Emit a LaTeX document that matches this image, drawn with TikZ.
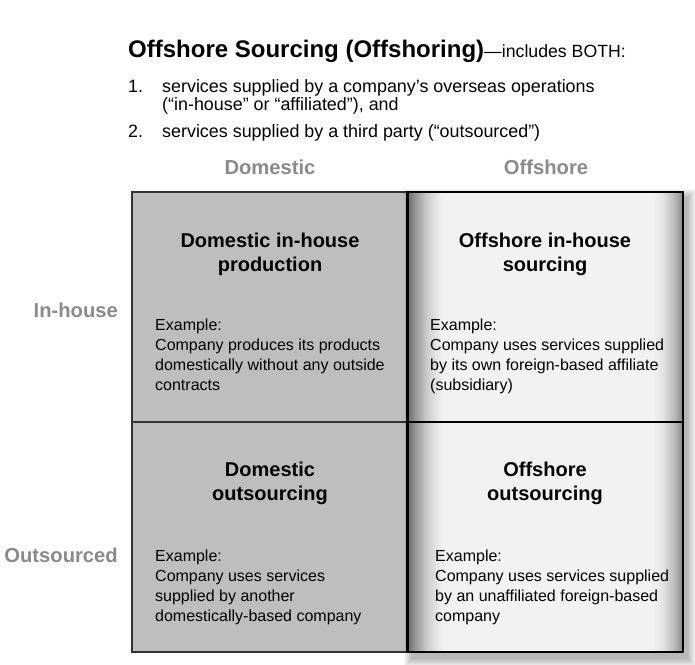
\documentclass[tikz,border=0pt]{standalone}
\usepackage{fontspec}
\setmainfont{Liberation Sans}
\usetikzlibrary{calc}
\definecolor{domfill}{HTML}{BEBEBE}
\definecolor{axisgray}{HTML}{8A8A8A}
\pgfdeclarehorizontalshading{offshade}{100bp}{color(0bp)=(black!58); color(25bp)=(black!58);
  color(26.5bp)=(black!40); color(28.5bp)=(black!20); color(30.5bp)=(black!9); color(31.5bp)=(black!5);
  color(69.5bp)=(black!5); color(71.5bp)=(black!12); color(73.5bp)=(black!28);
  color(75bp)=(black!48); color(100bp)=(black!48)}

\begin{document}
\begin{tikzpicture}[x=1pt,y=-1pt,
  cell/.style={minimum width=275.5pt,minimum height=230pt,inner sep=0pt,outer sep=0pt},
  domcell/.style={cell,draw=black!80,line width=1.1pt,fill=domfill},
  offcell/.style={cell,draw=black,line width=2.6pt,shading=offshade},
  axislabel/.style={inner sep=0pt,text=axisgray,font=\bfseries\fontsize{20.2}{22}\selectfont},
  celltitle/.style={inner sep=0pt,anchor=base,align=center,font=\bfseries\fontsize{20}{24}\selectfont},
  celltext/.style={inner sep=0pt,anchor=base west,align=left,font=\fontsize{16}{20}\selectfont},
  listtext/.style={inner sep=0pt,anchor=base west,align=left,font=\fontsize{17.9}{18}\selectfont}]
  \useasboundingbox (0,0) rectangle (695,664);

  \draw(128,57) node[anchor=base west,inner sep=0pt] (title) {{\bfseries\fontsize{24}{26}\selectfont Offshore Sourcing (Offshoring)}\fontsize{17.7}{20}\selectfont—includes BOTH:};
  \draw(128,92) node[listtext] (num1) {1.};
  \draw(162,110) node[listtext] (item1) {services supplied by a company’s overseas operations\\(“in-house” or “affiliated”), and};
  \draw(128,137) node[listtext] (num2) {2.};
  \draw(162,137) node[listtext] (item2) {services supplied by a third party (“outsourced”)};

  \draw(270,174) node[axislabel,anchor=base] (domlabel) {Domestic};
  \draw(546,174) node[axislabel,anchor=base] (offlabel) {Offshore};
  \draw(118,317) node[axislabel,anchor=base east] (inlabel) {In-house};
  \draw(118,562) node[axislabel,anchor=base east] (outlabel) {Outsourced};

  \draw(269.75,307) node[domcell] (dih) {};
  \draw(269.75,537) node[domcell] (dos) {};

  \foreach \e in {1,...,9}
    \fill[black,opacity=.035] ($(407.5,192)+(5-\e,6-\e)$) rectangle ($(683,652)+(4+\e,6+\e)$);

  \draw(545.25,307) node[offcell] (oih) {};
  \draw(545.25,537) node[offcell] (oos) {};

  \draw(270,271) node[celltitle] (dihtitle) {Domestic in-house\\production};
  \draw(545,271) node[celltitle] (oihtitle) {Offshore in-house\\sourcing};
  \draw(270,500) node[celltitle] (dostitle) {Domestic\\outsourcing};
  \draw(545,500) node[celltitle] (oostitle) {Offshore\\outsourcing};

  \draw(155,390) node[celltext] (dihtext) {Example:\\Company produces its products\\domestically without any outside\\contracts};
  \draw(430,390) node[celltext] (oihtext) {Example:\\Company uses services supplied\\by its own foreign-based affiliate\\(subsidiary)};
  \draw(155,621) node[celltext] (dostext) {Example:\\Company uses services\\supplied by another\\domestically-based company};
  \draw(435,621) node[celltext] (oostext) {Example:\\Company uses services supplied\\by an unaffiliated foreign-based\\company};
\end{tikzpicture}
\end{document}
